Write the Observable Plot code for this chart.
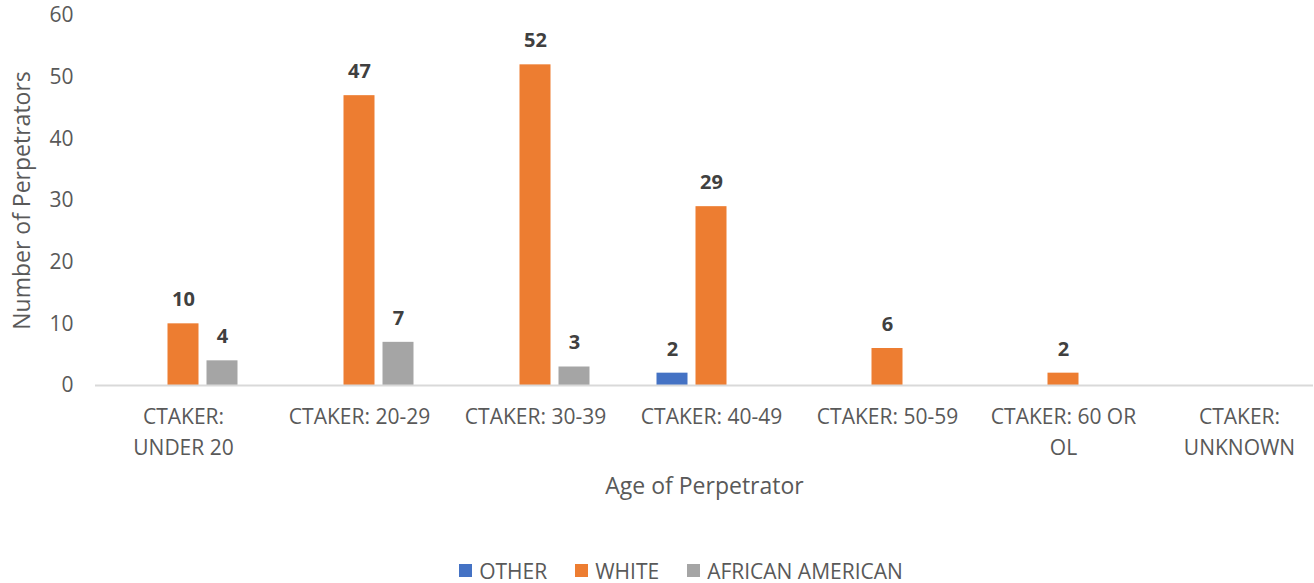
<!DOCTYPE html>
<html>
<head>
<meta charset="utf-8">
<script src="https://cdn.jsdelivr.net/npm/d3@7"></script>
<script src="https://cdn.jsdelivr.net/npm/@observablehq/plot@0.6"></script>
<style>
  html, body { margin: 0; padding: 0; background: #fff; }
  body { width: 1314px; height: 583px; overflow: hidden; font-family: "Open Sans", "Noto Sans", sans-serif; }
  #legend { display: flex; justify-content: center; align-items: center; height: 25px; font-size: 21px; color: #595959; padding-left: 48px; }
  .item { display: flex; align-items: center; margin: 0 14px; }
  .sw { width: 13px; height: 13px; margin-right: 7px; }
</style>
</head>
<body>
<div id="chart"></div>
<div id="legend"></div>
<script>
const categories = ["CTAKER: UNDER 20", "CTAKER: 20-29", "CTAKER: 30-39", "CTAKER: 40-49", "CTAKER: 50-59", "CTAKER: 60 OR OL", "CTAKER: UNKNOWN"];
const categoryLabels = ["CTAKER:\nUNDER 20", "CTAKER: 20-29", "CTAKER: 30-39", "CTAKER: 40-49", "CTAKER: 50-59", "CTAKER: 60 OR\nOL", "CTAKER:\nUNKNOWN"];
const series = ["OTHER", "WHITE", "AFRICAN AMERICAN"];
const otherValues = [0, 0, 0, 2, 0, 0, 0];
const whiteValues = [10, 47, 52, 29, 6, 2, 0];
const africanAmericanValues = [4, 7, 3, 0, 0, 0, 0];
const colors = ["#4472C4", "#ED7D31", "#A5A5A5"];
const yTicks = [0, 10, 20, 30, 40, 50, 60];

const seriesValues = [otherValues, whiteValues, africanAmericanValues];
const data = [];
series.forEach((s, si) => categories.forEach((c, ci) => data.push({category: c, series: s, value: seriesValues[si][ci]})));

const offsets = [-39, 0, 39];
const labelMap = new Map(categories.map((c, i) => [c, categoryLabels[i]]));

const marks = [];
series.forEach((s, si) => {
  const d = data.filter(r => r.series === s && r.value > 0);
  marks.push(Plot.barY(d, {x: "category", y: "value", fill: colors[si], dx: offsets[si], insetLeft: 72.5, insetRight: 72.5}));
  marks.push(Plot.text(d, {x: "category", y: "value", text: d => String(d.value), dx: offsets[si], dy: -24, fontWeight: "bold", fontSize: 20, fill: "#404040"}));
});

const chart = Plot.plot({
  width: 1314,
  height: 558,
  marginTop: 15,
  marginBottom: 173,
  marginLeft: 95,
  marginRight: 1,
  style: {fontFamily: "'Open Sans', 'Noto Sans', sans-serif", color: "#595959", background: "#fff"},
  x: {domain: categories, range: [94.5, 1326.5], padding: 0},
  y: {domain: [0, 60], range: [385, 15]},
  marks: [
    Plot.axisY({ticks: yTicks, tickSize: 0, tickPadding: 22, fontSize: 21, fill: "#595959", label: null}),
    Plot.axisX({tickSize: 0, tickPadding: 16, fontSize: 21, fill: "#595959", label: null, lineHeight: 1.5, tickFormat: c => labelMap.get(c)}),
    ...marks,
    Plot.ruleY([0], {stroke: "#D9D9D9", strokeWidth: 2}),
    Plot.text(["Age of Perpetrator"], {frameAnchor: "bottom", dy: 108, fontSize: 23, fill: "#595959"}),
    Plot.text(["Number of Perpetrators"], {frameAnchor: "left", textAnchor: "middle", dx: -73, rotate: -90, fontSize: 23, fill: "#595959"})
  ]
});
document.getElementById("chart").appendChild(chart);

const legend = document.getElementById("legend");
series.forEach((s, i) => {
  const item = document.createElement("div");
  item.className = "item";
  item.innerHTML = `<span class="sw" style="background:${colors[i]}"></span><span>${s}</span>`;
  legend.appendChild(item);
});
</script>
</body>
</html>
